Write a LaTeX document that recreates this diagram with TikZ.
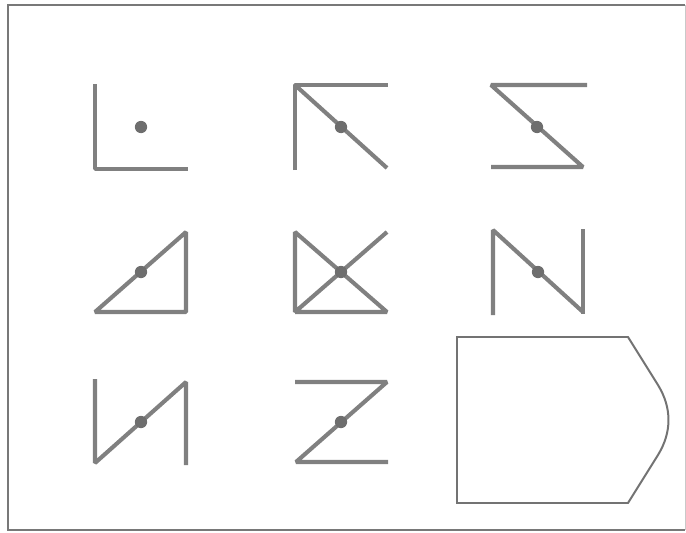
\documentclass[tikz,border=0pt]{standalone}
\usepackage{tikz}
\usetikzlibrary{calc}
\definecolor{strokeGray}{RGB}{128,128,128}
\definecolor{dotGray}{RGB}{110,110,110}
\definecolor{outlineGray}{RGB}{115,115,115}
\definecolor{frameGray}{RGB}{120,120,120}

\begin{document}
\begin{tikzpicture}[x=0.03cm, y=-0.03cm,
    bar/.style={strokeGray, line width=3.5pt, line join=bevel},
    pivot/.style={circle, fill=dotGray, inner sep=0pt, minimum size=10.5pt},
    answer/.style={outlineGray, line width=1.7pt, line join=miter}]
  \useasboundingbox (0,0) rectangle (686,533);
  % frame
  \draw[frameGray, line width=1.6pt] (685,5) -- (8,5) -- (8,530) -- (685,530);
  \draw[frameGray!40, line width=0.8pt] (685,5) -- (685,530);
  % row 1
  \draw[bar] (95,84) -- (95,169) -- (188,169);
  \node[pivot] (d1) at (141,127) {};
  \draw[bar] (295,170) -- (295,85) -- (388,85);
  \draw[bar] (295,85) -- (387,168);
  \node[pivot] (d2) at (341,127) {};
  \draw[bar] (587,85) -- (491,85) -- (583,167) -- (491,167);
  \node[pivot] (d3) at (537,127) {};
  % row 2
  \draw[bar] (95,312) -- (186,232) -- (186,312) -- cycle;
  \node[pivot] (d4) at (141,272) {};
  \draw[bar] (387,232) -- (295,312) -- (295,232) -- (387,312) -- (295,312);
  \node[pivot] (d5) at (341,272) {};
  \draw[bar] (493,315) -- (493,230) -- (583,312);
  \draw[bar] (583,229) -- (583,314);
  \node[pivot] (d6) at (538,272) {};
  % row 3
  \draw[bar] (95,379) -- (95,463) -- (186,382) -- (186,465);
  \node[pivot] (d7) at (141,422) {};
  \draw[bar] (295,382) -- (387,382) -- (296,462) -- (388,462);
  \node[pivot] (d8) at (341,422) {};
  % answer shape
  \draw[answer] (457,337) -- (628,337) -- (658,385)
    .. controls (672,408) and (672,432) .. (658,455)
    -- (628,503) -- (457,503) -- cycle;
\end{tikzpicture}
\end{document}
